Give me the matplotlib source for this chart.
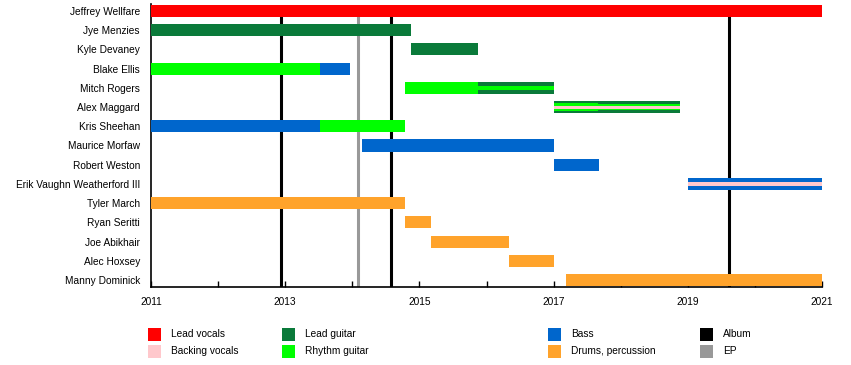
import matplotlib
matplotlib.use("Agg")
import matplotlib.pyplot as plt
from matplotlib.patches import Rectangle

plt.rcParams['font.family'] = ['Liberation Sans', 'DejaVu Sans']

members = ["Jeffrey Wellfare", "Jye Menzies", "Kyle Devaney", "Blake Ellis",
           "Mitch Rogers", "Alex Maggard", "Kris Sheehan", "Maurice Morfaw",
           "Robert Weston", "Erik Vaughn Weatherford III", "Tyler March",
           "Ryan Seritti", "Joe Abikhair", "Alec Hoxsey", "Manny Dominick"]

roles = {
    "Lead vocals": "#ff0000",
    "Backing vocals": "#ffc8cc",
    "Lead guitar": "#0a7a3a",
    "Rhythm guitar": "#00ff00",
    "Bass": "#0066cc",
    "Drums, percussion": "#ffa32b",
}

# (member, start, end, role, layer)  layer: 0 = full bar, 1 = middle band, 2 = thin middle band, 3 = inner stripe
periods = [
    ("Jeffrey Wellfare", 2011.0, 2021.0, "Lead vocals", 0),
    ("Jye Menzies", 2011.0, 2014.88, "Lead guitar", 0),
    ("Kyle Devaney", 2014.88, 2015.87, "Lead guitar", 0),
    ("Blake Ellis", 2011.0, 2013.52, "Rhythm guitar", 0),
    ("Blake Ellis", 2013.52, 2013.97, "Bass", 0),
    ("Mitch Rogers", 2014.78, 2015.87, "Rhythm guitar", 0),
    ("Mitch Rogers", 2015.87, 2017.0, "Lead guitar", 0),
    ("Mitch Rogers", 2015.87, 2017.0, "Rhythm guitar", 3),
    ("Alex Maggard", 2017.0, 2018.88, "Lead guitar", 0),
    ("Alex Maggard", 2017.0, 2017.66, "Rhythm guitar", 1),
    ("Alex Maggard", 2017.66, 2018.88, "Rhythm guitar", 2),
    ("Alex Maggard", 2017.0, 2018.88, "Backing vocals", 4),
    ("Kris Sheehan", 2011.0, 2013.52, "Bass", 0),
    ("Kris Sheehan", 2013.52, 2014.79, "Rhythm guitar", 0),
    ("Maurice Morfaw", 2014.14, 2017.0, "Bass", 0),
    ("Robert Weston", 2017.0, 2017.68, "Bass", 0),
    ("Erik Vaughn Weatherford III", 2019.0, 2021.0, "Bass", 0),
    ("Erik Vaughn Weatherford III", 2019.0, 2021.0, "Backing vocals", 3),
    ("Tyler March", 2011.0, 2014.79, "Drums, percussion", 0),
    ("Ryan Seritti", 2014.79, 2015.18, "Drums, percussion", 0),
    ("Joe Abikhair", 2015.18, 2016.33, "Drums, percussion", 0),
    ("Alec Hoxsey", 2016.33, 2017.0, "Drums, percussion", 0),
    ("Manny Dominick", 2017.19, 2021.0, "Drums, percussion", 0),
]

albums = [2012.94, 2014.57, 2019.61]
eps = [2014.08]

layer_height = {0: 0.63, 1: 0.38, 2: 0.28, 3: 0.22, 4: 0.16}

fig = plt.figure(figsize=(8.51, 3.65), dpi=100)
ax = fig.add_axes([151/851, 1-287/365, 671/851, 283/365])

ypos = {m: i for i, m in enumerate(members)}
for m, s, e, r, layer in periods:
    ax.barh(ypos[m], e - s, left=s, height=layer_height[layer],
            color=roles[r], zorder=3 + layer, linewidth=0)

ybottom = len(members) - 1 + 0.364
ax.vlines(albums, ybottom, 0, color="black", lw=2.2, zorder=2)
ax.vlines(eps, ybottom, 0, color="#999999", lw=2.2, zorder=2)

ax.set_xlim(2011, 2021)
ax.set_ylim(ybottom, -0.364)
ax.set_yticks(range(len(members)))
ax.set_yticklabels(members, fontsize=7.3)
ax.tick_params(axis='y', length=0, pad=8)
years = list(range(2011, 2022))
ax.set_xticks(years)
ax.set_xticklabels([str(y) if (y - 2011) % 2 == 0 else "" for y in years], fontsize=7.3)
ax.tick_params(axis='x', direction='in', length=4, width=1, pad=7)
for sp in ("top", "right"):
    ax.spines[sp].set_visible(False)
for sp in ("left", "bottom"):
    ax.spines[sp].set_linewidth(1.2)

# legend
legend_entries = [
    ("Lead vocals", roles["Lead vocals"]), ("Backing vocals", roles["Backing vocals"]),
    ("Lead guitar", roles["Lead guitar"]), ("Rhythm guitar", roles["Rhythm guitar"]),
    ("Bass", roles["Bass"]), ("Drums, percussion", roles["Drums, percussion"]),
    ("Album", "black"), ("EP", "#999999"),
]
col_x = [148, 282, 548, 700]
row_y = [334, 351]
sq = 13
for i, (lab, col) in enumerate(legend_entries):
    cx = col_x[i // 2]
    cy = row_y[i % 2]
    fig.patches.append(Rectangle((cx / 851, 1 - (cy + sq / 2) / 365), sq / 851, sq / 365,
                                 transform=fig.transFigure, color=col, lw=0))
    fig.text((cx + 23) / 851, 1 - cy / 365, lab, fontsize=7.3, va='center', ha='left')

fig.savefig("out.png", dpi=100)
